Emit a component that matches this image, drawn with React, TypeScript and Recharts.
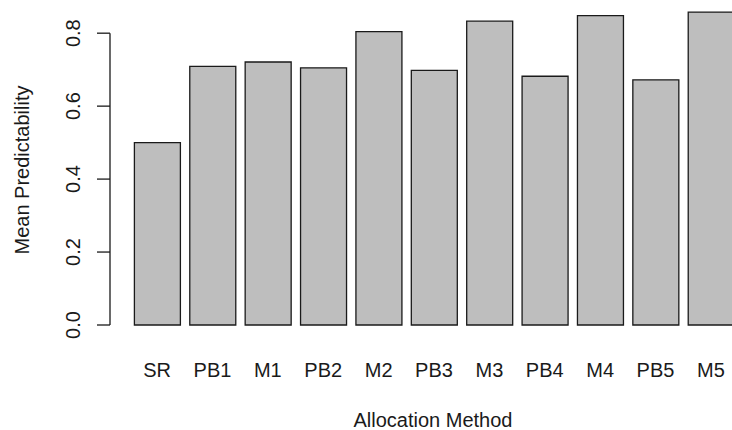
import React from "react";
import { BarChart, Bar, XAxis, YAxis, ReferenceArea } from "recharts";

// Mean predictability per allocation method
const methods = ["SR", "PB1", "M1", "PB2", "M2", "PB3", "M3", "PB4", "M4", "PB5", "M5"];
const meanPredictability = [0.5, 0.709, 0.721, 0.705, 0.804, 0.698, 0.833, 0.682, 0.848, 0.672, 0.858];
const yTicks = [0, 0.2, 0.4, 0.6, 0.8];

const FONT = '"Liberation Sans", Arial, Helvetica, sans-serif';
const INK = "#1a1a1a";
const FONT_SIZE = 20;
// gap between the y axis line and the first bar band (R's 4% axis extension)
const PAD_X = 19.4;

const data = methods.map((m, i) => ({ method: m, value: meanPredictability[i] }));

const XTick = (props: any) => {
  const { x, y, payload } = props;
  return (
    <text x={x} y={y + 51.5} textAnchor="middle" fontFamily={FONT} fontSize={FONT_SIZE} fill={INK}>
      {payload.value}
    </text>
  );
};

const YTick = (props: any) => {
  const { x, y, payload } = props;
  const tx = x - 17;
  return (
    <text
      x={tx}
      y={y}
      transform={`rotate(-90 ${tx} ${y})`}
      textAnchor="middle"
      fontFamily={FONT}
      fontSize={FONT_SIZE}
      fill={INK}
    >
      {payload.value.toFixed(1)}
    </text>
  );
};

const XTitle = (props: any) => {
  const { x, y, width, height } = props.viewBox;
  return (
    <text x={x + width / 2 - 1} y={y + height - 3.5} textAnchor="middle" fontFamily={FONT} fontSize={FONT_SIZE} fill={INK}>
      Allocation Method
    </text>
  );
};

const YTitle = (props: any) => {
  const { x, y, height } = props.viewBox;
  const tx = x + 29;
  const ty = y + height / 2 + 5.5;
  return (
    <text
      x={tx}
      y={ty}
      transform={`rotate(-90 ${tx} ${ty})`}
      textAnchor="middle"
      fontFamily={FONT}
      fontSize={FONT_SIZE}
      fill={INK}
    >
      Mean Predictability
    </text>
  );
};

// R-style axis line that only spans the tick range
const AxisLine = (props: any) => {
  const { x, y, height } = props;
  const lx = x - PAD_X;
  return <line x1={lx} x2={lx} y1={y} y2={y + height} stroke={INK} strokeWidth={1.3} />;
};

export default function App() {
  return (
    <div style={{ position: "absolute", left: 0, top: 0, width: 732, height: 430, overflow: "hidden", background: "#fff" }}>
      <BarChart width={760} height={430} data={data} margin={{ top: 4, right: 2, bottom: 0, left: 0 }}>
        <XAxis
          dataKey="method"
          type="category"
          height={105}
          padding={{ left: PAD_X, right: PAD_X }}
          axisLine={false}
          tickLine={false}
          tickSize={0}
          tickMargin={0}
          interval={0}
          tick={<XTick />}
          label={XTitle}
        />
        <YAxis
          type="number"
          domain={[0, 0.88]}
          ticks={yTicks}
          width={110}
          axisLine={false}
          tickLine={{ stroke: INK, strokeWidth: 1.3 }}
          tickSize={13}
          tickMargin={0}
          interval={0}
          tick={<YTick />}
          label={YTitle}
        />
        <ReferenceArea y1={0} y2={0.8} ifOverflow="visible" shape={AxisLine} />
        <Bar
          dataKey="value"
          fill="#bebebe"
          stroke={INK}
          strokeWidth={1.3}
          barSize={46}
          isAnimationActive={false}
        />
      </BarChart>
    </div>
  );
}
